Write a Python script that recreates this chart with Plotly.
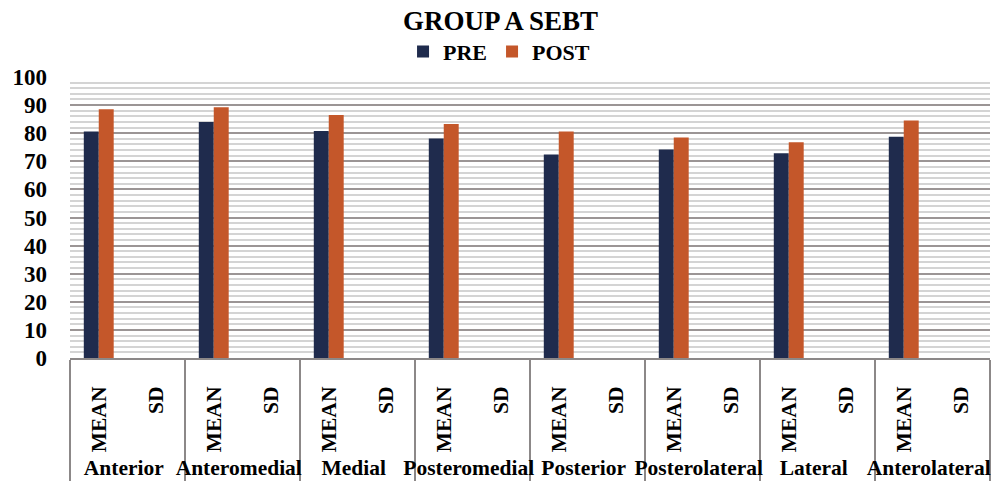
import plotly.graph_objects as go

# Star Excursion Balance Test reach directions and the statistic shown per direction
directions = ["Anterior", "Anteromedial", "Medial", "Posteromedial",
              "Posterior", "Posterolateral", "Lateral", "Anterolateral"]
stats = ["MEAN", "SD"]

# Mean reach distance before and after the intervention
pre_mean = [80.6, 84.0, 80.8, 78.1, 72.4, 74.2, 72.9, 78.7]
post_mean = [88.5, 89.2, 86.5, 83.3, 80.6, 78.5, 76.8, 84.5]

y_ticks = list(range(0, 101, 10))

x_outer = [d for d in directions for _ in stats]
x_inner = [s for _ in directions for s in stats]


def spread(means):
    # place each mean in its MEAN slot, leave the SD slot empty
    out = []
    for m in means:
        out.extend([m, None])
    return out


PRE_COLOR = "#1f2b4d"
POST_COLOR = "#c4572a"
FONT = "Liberation Serif"

fig = go.Figure()
fig.add_trace(go.Bar(name="PRE", x=[x_outer, x_inner], y=spread(pre_mean),
                     marker=dict(color=PRE_COLOR, line=dict(width=0))))
fig.add_trace(go.Bar(name="POST", x=[x_outer, x_inner], y=spread(post_mean),
                     marker=dict(color=POST_COLOR, line=dict(width=0))))

fig.update_layout(
    width=1007, height=491,
    margin=dict(l=70, r=17, t=77, b=130),
    paper_bgcolor="white", plot_bgcolor="white",
    font=dict(family=FONT, size=20, color="black", weight="bold"),
    barmode="group", bargap=0.48, bargroupgap=0,
    title=dict(text="GROUP A SEBT", x=0.497, xref="container", xanchor="center",
               y=0.958, yref="container", yanchor="middle",
               font=dict(family=FONT, size=27, weight="bold", color="black")),
    legend=dict(orientation="h", x=0.362, xanchor="left", y=1.09, yanchor="middle",
                font=dict(family=FONT, size=22, weight="bold"),
                itemwidth=30, bgcolor="rgba(0,0,0,0)", tracegroupgap=0),
    showlegend=True,
)

fig.update_yaxes(
    range=[0, 100], tickvals=y_ticks, ticktext=[str(v) for v in y_ticks],
    showgrid=True, gridcolor="#9b9595", gridwidth=2,
    minor=dict(dtick=2, showgrid=True, gridcolor="#d4d4d4", gridwidth=2),
    zeroline=False, showline=False, ticks="",
    tickfont=dict(family=FONT, size=23, weight="bold"),
    ticklabelstandoff=22,
)

fig.update_xaxes(
    type="multicategory", showline=True, linecolor="#8c8888", linewidth=2,
    showdividers=True, dividercolor="#8c8888", dividerwidth=2,
    tickangle=-90, ticks="", ticklabelstandoff=18,
    tickfont=dict(family=FONT, size=21.5, weight="bold"),
)

fig.write_html("out.html")
